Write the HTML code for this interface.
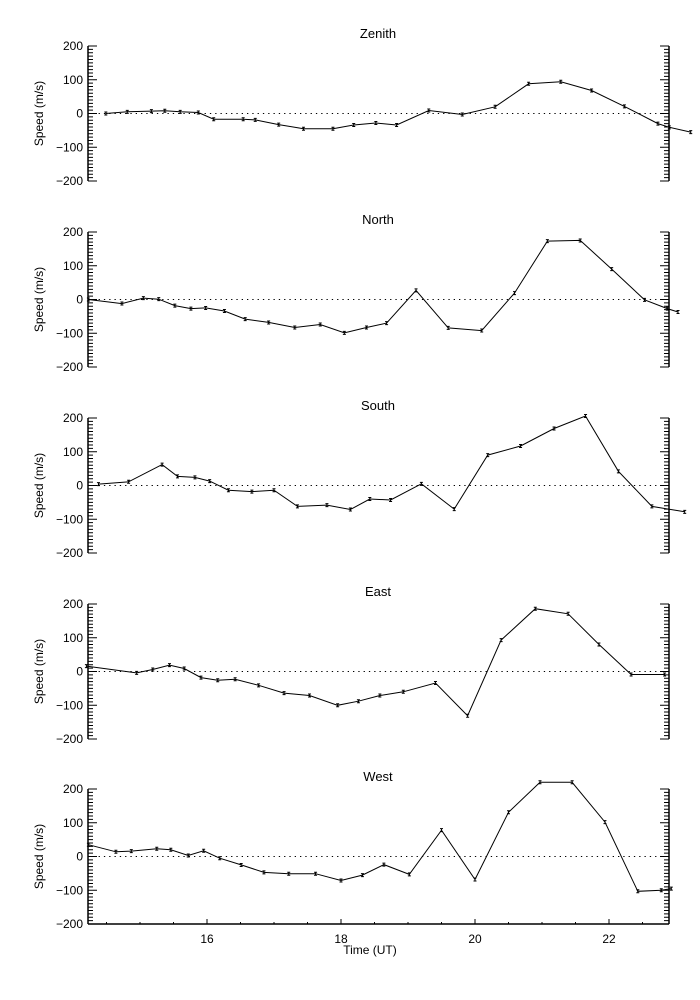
<!DOCTYPE html>
<html><head><meta charset="utf-8"><style>
html,body{margin:0;padding:0;background:#fff;}
svg{display:block;font-family:"Liberation Sans",sans-serif;}
</style></head><body>
<svg id="chart" width="700" height="1000" viewBox="0 0 700 1000" xmlns="http://www.w3.org/2000/svg"></svg>
<script>
const panelNames = ["Zenith","North","South","East","West"];
const xTickLabels = [16,18,20,22];
const yTickLabels = [200,100,0,-100,-200];
const zenithTimes = [14.49,14.81,15.17,15.37,15.60,15.87,16.10,16.54,16.72,17.07,17.44,17.88,18.19,18.52,18.83,19.31,19.81,20.30,20.80,21.28,21.74,22.23,22.73,22.90,23.22];
const zenithValues = [0,5,7,8,5,3,-17,-17,-19,-33,-45,-45,-34,-28,-34,9,-3,20,88,94,68,21,-30,-41,-55];
const northTimes = [14.23,14.73,15.05,15.28,15.52,15.76,15.98,16.26,16.57,16.92,17.31,17.69,18.05,18.38,18.68,19.12,19.60,20.10,20.59,21.08,21.57,22.04,22.53,22.87,23.03];
const northValues = [0,-12,4,1,-18,-27,-25,-34,-58,-68,-83,-74,-99,-83,-70,27,-84,-92,19,173,175,90,-1,-27,-37];
const southTimes = [14.38,14.83,15.33,15.56,15.82,16.04,16.32,16.67,17.00,17.35,17.79,18.14,18.43,18.74,19.20,19.69,20.19,20.68,21.18,21.65,22.14,22.64,23.13];
const southValues = [4,11,62,27,24,13,-14,-18,-14,-62,-58,-71,-40,-43,5,-70,90,117,169,206,42,-62,-78];
const eastTimes = [14.20,14.95,15.19,15.44,15.66,15.91,16.16,16.42,16.77,17.15,17.53,17.95,18.26,18.58,18.93,19.41,19.89,20.39,20.90,21.39,21.85,22.33,22.83];
const eastValues = [16,-4,6,19,9,-18,-26,-23,-41,-64,-71,-100,-88,-71,-60,-34,-131,93,186,171,80,-9,-9];
const westTimes = [14.23,14.64,14.87,15.25,15.46,15.72,15.95,16.19,16.51,16.85,17.22,17.62,18.00,18.32,18.64,19.02,19.50,20.00,20.50,20.97,21.45,21.94,22.43,22.78,22.93];
const westValues = [35,14,16,23,20,3,17,-5,-25,-47,-51,-51,-71,-55,-24,-53,78,-68,131,220,220,102,-103,-100,-95];
const allTimes = [zenithTimes,northTimes,southTimes,eastTimes,westTimes];
const allValues = [zenithValues,northValues,southValues,eastValues,westValues];

const NS="http://www.w3.org/2000/svg";
const svg=document.getElementById('chart');
const X0=88, X1=669;
const panelTops=[46,232,418,604,789];
const PH=135;
function xScale(t){return 207+(t-16)*67;}
function yScale(v,top){return top+(200-v)*PH/400;}
function mk(tag,attrs,parent){const e=document.createElementNS(NS,tag);for(const k in attrs)e.setAttribute(k,attrs[k]);(parent||svg).appendChild(e);return e;}

panelNames.forEach((name,p)=>{
  const top=panelTops[p];
  const g=mk('g',{});
  
  
  const title=mk('text',{x:378,y:top-8,'text-anchor':'middle','font-size':13},g);
  title.textContent=name;
  
  
  const la=mk('line',{x1:X0,y1:top,x2:X0,y2:top+PH,stroke:'#000','stroke-width':1.5},g);
  
  
  const ra=mk('line',{x1:X1,y1:top,x2:X1,y2:top+PH,stroke:'#000','stroke-width':1.5},g);
  
  
  for(let v=-200;v<=200;v+=10){
    const y=yScale(v,top);
    const L=(v%100===0)?9:5;
    const t1=mk('line',{x1:X0,y1:y,x2:X0+L,y2:y,stroke:'#000','stroke-width':1},g);
    
    
    const t2=mk('line',{x1:X1,y1:y,x2:X1-L,y2:y,stroke:'#000','stroke-width':1},g);
    
    
  }
  yTickLabels.forEach(v=>{
    const tx=mk('text',{x:83,y:yScale(v,top)+4,'text-anchor':'end','font-size':12},g);
    tx.textContent=(v<0?'\u2212'+(-v):String(v));
    
    
  });
  const yt=mk('text',{x:0,y:0,'text-anchor':'middle','font-size':12,transform:`translate(43,${top+PH/2}) rotate(-90)`},g);
  yt.textContent='Speed (m/s)';
  
  
  const zl=mk('line',{x1:X0,y1:yScale(0,top),x2:X1,y2:yScale(0,top),stroke:'#000','stroke-width':1,'stroke-dasharray':'1.3,4'},g);
  
  
  const ts=allTimes[p], vs=allValues[p];
  const pts=ts.map((t,i)=>xScale(t).toFixed(1)+','+yScale(vs[i],top).toFixed(1)).join(' ');
  const pl=mk('polyline',{points:pts,fill:'none',stroke:'#000','stroke-width':1},g);
  
  
  ts.forEach((t,i)=>{
    const x=xScale(t), y=yScale(vs[i],top);
    const m=mk('path',{d:`M${x-1.5},${y-1.5}H${x+1.5}M${x},${y-1.5}V${y+1.5}M${x-1.5},${y+1.5}H${x+1.5}`,stroke:'#000','stroke-width':1,fill:'none'},g);
    
    
  });
});
const bt=panelTops[4]+PH;
const xa=mk('line',{x1:X0,y1:bt,x2:X1,y2:bt,stroke:'#000','stroke-width':1.5});


for(let t=14.5;t<=22.9;t+=0.5){
  const major=xTickLabels.indexOf(t)>=0;
  const tk=mk('line',{x1:xScale(t),y1:bt,x2:xScale(t),y2:bt-(major?5:2),stroke:'#000','stroke-width':1});
  
  
}
xTickLabels.forEach(t=>{
  const tx=mk('text',{x:xScale(t),y:bt+19,'text-anchor':'middle','font-size':12});
  tx.textContent=String(t);
  
  
});
const xt=mk('text',{x:370,y:bt+30,'text-anchor':'middle','font-size':12});
xt.textContent='Time (UT)';


</script>
</body></html>
